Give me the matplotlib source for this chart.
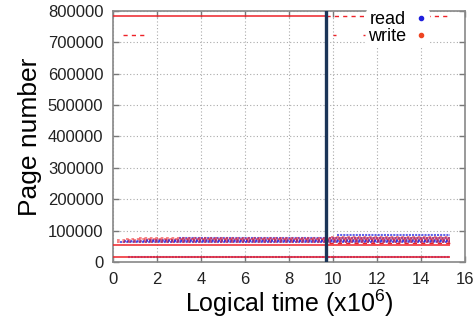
import matplotlib
matplotlib.use("Agg")
import matplotlib.pyplot as plt
from matplotlib.lines import Line2D

plt.rcParams['font.family'] = ['Liberation Sans', 'DejaVu Sans']
plt.rcParams['mathtext.default'] = 'regular'

# ---- data ----
# long "write" runs (page number, start, end in x10^6)
write_run_y = [782000, 54000, 18000]
write_run_x0 = [0.0, 0.0, 0.0]
write_run_x1 = [9.7, 15.3, 15.3]

# sparse write runs
write_sparse_y = [782000, 723000, 723000, 723000, 61000]
write_sparse_x0 = [9.7, 0.45, 10.0, 11.35, 9.8]
write_sparse_x1 = [15.2, 1.5, 10.15, 11.45, 15.3]

# dense band of writes
write_band_y = [66000, 70000, 74000, 78000, 82000]
write_band_x0 = [0.2, 0.2, 0.6, 1.2, 9.9]
write_band_x1 = [15.3, 15.3, 15.3, 15.3, 15.3]

# dense band of reads
read_band_y = [64000, 68000, 72000, 76000, 86000, 16000]
read_band_x0 = [0.3, 0.5, 1.5, 3.0, 10.2, 0.7]
read_band_x1 = [15.3, 15.3, 15.3, 15.3, 15.3, 15.3]

split_time = 9.7

read_color = '#2020dd'
write_color = '#ee2228'

fig = plt.figure(figsize=(4.75, 3.2), dpi=100)
ax = fig.add_axes([0.238, 0.180, 0.741, 0.787])

ax.hlines(write_run_y, write_run_x0, write_run_x1, color=write_color, lw=1.1, zorder=3)
ax.hlines(write_sparse_y, write_sparse_x0, write_sparse_x1, color=write_color, lw=1.0,
          linestyles=(0, (3, 3)), zorder=3)
ax.hlines(read_band_y, read_band_x0, read_band_x1, color=read_color, lw=1.5,
          linestyles=(0, (1, 0.5)), alpha=0.7, zorder=2)
ax.hlines(write_band_y, write_band_x0, write_band_x1, color=write_color, lw=1.3,
          linestyles=(0, (1.5, 1.5)), alpha=0.6, zorder=2)

ax.axvline(split_time, color='#1b3558', lw=2.4, zorder=4)

ax.set_xlim(0, 16)
ax.set_ylim(0, 800000)
ax.set_xticks(range(0, 17, 2))
ax.set_yticks(range(0, 800001, 100000))
ax.grid(True, color='#aaaaaa', linestyle=(0, (1, 2)), linewidth=0.8)
ax.tick_params(direction='in', top=True, right=True, length=4, width=1,
               color='#777777', labelsize=12, labelcolor='#222222', pad=7)
for s in ax.spines.values():
    s.set_color('#888888')
    s.set_linewidth(1.2)

ax.set_xlabel('Logical time (x10$^{6}$)', fontsize=18, labelpad=0)
ax.set_ylabel('Page number', fontsize=19, labelpad=4)

handles = [Line2D([], [], ls='none', marker='o', ms=3, color=read_color),
           Line2D([], [], ls='none', marker='o', ms=3, color='#ee4422')]
leg = ax.legend(handles, ['read', 'write'], loc='upper right', bbox_to_anchor=(0.9, 1.005),
                markerfirst=False, fontsize=13, frameon=True, handlelength=0.8,
                handletextpad=0.4, labelspacing=0.0, borderpad=0.1, borderaxespad=0)
leg.get_frame().set_facecolor('white')
leg.get_frame().set_edgecolor('none')
leg.get_frame().set_alpha(1)
leg.set_zorder(5)

fig.savefig('out.png', dpi=100)
